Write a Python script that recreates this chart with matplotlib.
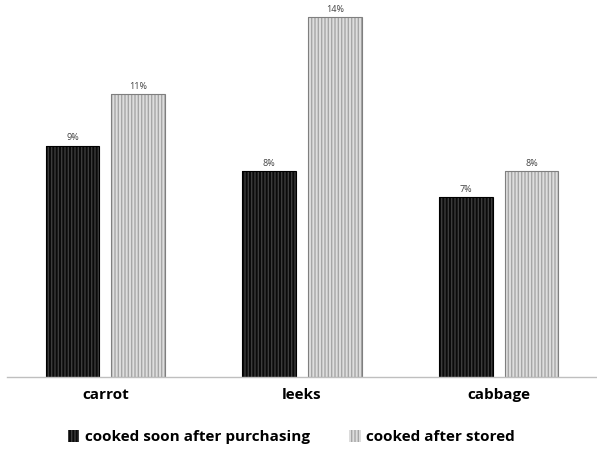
import matplotlib
matplotlib.use("Agg")
import matplotlib.pyplot as plt
import numpy as np
from matplotlib.patches import Patch

categories = ["carrot", "leeks", "cabbage"]
series_names = ["cooked soon after purchasing", "cooked after stored"]
soon_vals = [9, 8, 7]
stored_vals = [11, 14, 8]
soon_labels = ["9%", "8%", "7%"]
stored_labels = ["11%", "14%", "8%"]

plt.rcParams['font.family'] = ['Open Sans', 'DejaVu Sans']

fig = plt.figure(figsize=(5.97, 4.5), dpi=100)
ax = fig.add_axes([7/597, 1 - 377/450, 590/597, 367/450])

x = np.arange(len(categories))
w = 0.273
off = 0.167

dark_face, dark_hatch, dark_edge = '#0a0a0a', '#3c3c3c', '#000000'
light_face, light_hatch, light_edge = '#dedede', '#a6a6a6', '#7f7f7f'

ax.bar(x - off, soon_vals, w, color=dark_face, hatch='|||||', edgecolor=dark_hatch, linewidth=0)
ax.bar(x - off, soon_vals, w, fill=False, edgecolor=dark_edge, linewidth=0.8)
ax.bar(x + off, stored_vals, w, color=light_face, hatch='|||||', edgecolor=light_hatch, linewidth=0)
ax.bar(x + off, stored_vals, w, fill=False, edgecolor=light_edge, linewidth=0.8)

for xi, v, lab in zip(x - off, soon_vals, soon_labels):
    ax.text(xi, v + 0.12, lab, ha='center', va='bottom', fontsize=6.5, color='#404040')
for xi, v, lab in zip(x + off, stored_vals, stored_labels):
    ax.text(xi, v + 0.12, lab, ha='center', va='bottom', fontsize=6.5, color='#404040')

ax.set_xlim(-0.5, len(categories) - 0.5)
ax.set_ylim(0, 14 * 367 / 360)
for s in ['top', 'right', 'left']:
    ax.spines[s].set_visible(False)
ax.spines['bottom'].set_color('#bfbfbf')
ax.spines['bottom'].set_linewidth(1)
ax.set_yticks([])
ax.set_xticks(x)
ax.set_xticklabels(categories, fontsize=11, fontweight='bold')
ax.tick_params(axis='x', length=0, pad=8)

handles = [Patch(facecolor=dark_face, edgecolor=dark_hatch, hatch='|||||', linewidth=0),
           Patch(facecolor=light_face, edgecolor=light_hatch, hatch='|||||', linewidth=0)]
fig.legend(handles, series_names, loc='center', bbox_to_anchor=(0.488, 0.028), ncol=2,
           frameon=False, prop={'weight': 'bold', 'size': 11},
           handlelength=0.75, handleheight=0.75, handletextpad=0.35, columnspacing=2.6)

fig.savefig("out.png", dpi=100)
